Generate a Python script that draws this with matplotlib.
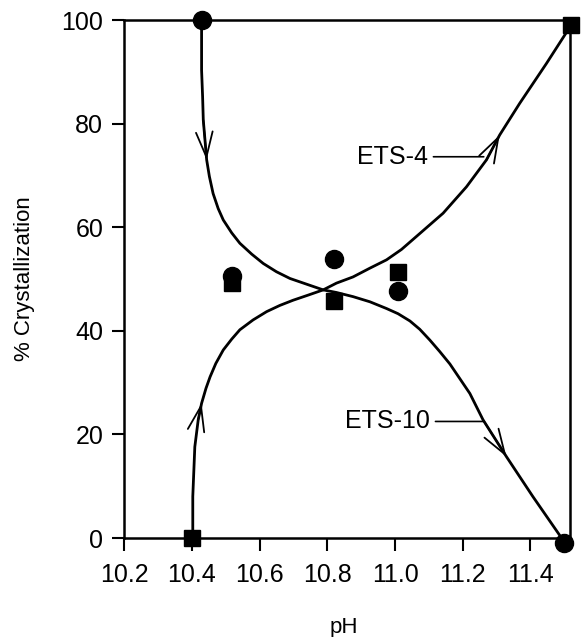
import matplotlib
matplotlib.use("Agg")
import matplotlib.pyplot as plt

plt.rcParams['font.family'] = ['Liberation Sans', 'DejaVu Sans']

# measured points
ets4_ph = [10.40, 10.52, 10.82, 11.01, 11.52]
ets4_pct = [0.0, 49.3, 45.7, 51.3, 99.0]
ets10_ph = [10.43, 10.52, 10.82, 11.01, 11.50]
ets10_pct = [100.0, 50.6, 53.8, 47.7, -1.0]

# hand-drawn trend lines
ets4_line_ph = [10.403, 10.403, 10.409, 10.419, 10.429, 10.442, 10.454, 10.471, 10.493, 10.518,
                10.542, 10.581, 10.621, 10.660, 10.699, 10.744, 10.788, 10.827, 10.876, 10.926,
                10.975, 11.019, 11.063, 11.142, 11.211, 11.270, 11.309, 11.368, 11.447, 11.511]
ets4_line_pct = [0.3, 8.0, 17.6, 22.8, 26.0, 28.9, 31.1, 33.7, 36.3, 38.4,
                 40.2, 42.1, 43.7, 44.9, 45.9, 46.9, 47.9, 49.2, 50.4, 52.1,
                 53.7, 55.7, 58.2, 62.7, 67.8, 73.0, 77.8, 83.9, 91.6, 98.1]
ets10_line_ph = [10.429, 10.429, 10.432, 10.434, 10.444, 10.452, 10.463, 10.478, 10.493, 10.518,
                 10.542, 10.577, 10.611, 10.650, 10.690, 10.739, 10.788, 10.827, 10.876, 10.926,
                 10.975, 11.009, 11.044, 11.073, 11.103, 11.132, 11.162, 11.191, 11.221, 11.260,
                 11.329, 11.407, 11.496]
ets10_line_pct = [99.4, 90.3, 85.2, 80.7, 73.0, 69.8, 66.5, 63.6, 61.4, 58.9,
                  56.9, 54.8, 53.0, 51.4, 50.1, 49.0, 47.9, 47.4, 46.6, 45.6,
                  44.3, 43.3, 41.9, 40.3, 38.2, 36.0, 33.6, 30.8, 27.9, 22.8,
                  15.7, 8.0, -0.4]
# indices of line points where the direction arrows sit
ets4_arrows = [4, 26]
ets10_arrows = [4, 30]

xticks = [10.2, 10.4, 10.6, 10.8, 11.0, 11.2, 11.4]
yticks = [0, 20, 40, 60, 80, 100]

fig = plt.figure(figsize=(5.85, 6.37), dpi=100)
ax = fig.add_axes([0.212, 0.1554, 0.762, 0.8132])

ax.plot(ets4_line_ph, ets4_line_pct, color='black', lw=2, solid_joinstyle='round')
ax.plot(ets10_line_ph, ets10_line_pct, color='black', lw=2, solid_joinstyle='round')

for xs, ys, idx in [(ets4_line_ph, ets4_line_pct, ets4_arrows),
                    (ets10_line_ph, ets10_line_pct, ets10_arrows)]:
    for i in idx:
        ax.annotate('', xy=(xs[i], ys[i]), xytext=(xs[i - 1], ys[i - 1]),
                    arrowprops=dict(arrowstyle='->,head_length=1.2,head_width=0.4',
                                    mutation_scale=15, lw=1.3, color='black',
                                    shrinkA=0, shrinkB=0))

ax.plot(ets10_ph, ets10_pct, 'o', color='black', ms=13, clip_on=False, zorder=5)
ax.plot(ets4_ph, ets4_pct, 's', color='black', ms=11.5, clip_on=False, zorder=5)

ax.annotate('ETS-4', xy=(11.262, 73.6), xytext=(11.097, 73.6), ha='right', va='center',
            fontsize=18, arrowprops=dict(arrowstyle='-', lw=1.2, color='black',
                                         shrinkA=2, shrinkB=0))
ax.annotate('ETS-10', xy=(11.259, 22.5), xytext=(11.103, 22.5), ha='right', va='center',
            fontsize=18, arrowprops=dict(arrowstyle='-', lw=1.2, color='black',
                                         shrinkA=2, shrinkB=0))

ax.set_xlim(10.2, 11.516)
ax.set_ylim(0, 100)
ax.set_xticks(xticks)
ax.set_xticklabels(['%.1f' % t for t in xticks])
ax.set_yticks(yticks)
ax.tick_params(axis='both', direction='out', length=9, width=1.5, labelsize=18, color='black')
ax.tick_params(axis='x', pad=9)
ax.tick_params(axis='y', pad=6)
for s in ax.spines.values():
    s.set_linewidth(1.8)

ax.set_xlabel('pH', fontsize=16)
ax.set_ylabel('% Crystallization', fontsize=16)
ax.xaxis.set_label_coords(0.493, -0.153)
ax.yaxis.set_label_coords(-0.20, 0.5)

fig.savefig('out.png', dpi=100)
